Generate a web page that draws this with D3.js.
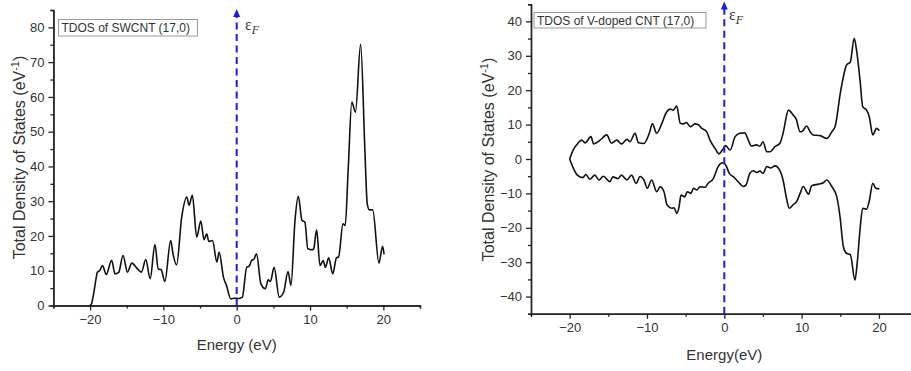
<!DOCTYPE html>
<html>
<head>
<meta charset="utf-8">
<script src="https://cdn.jsdelivr.net/npm/d3@7"></script>
<style>
  html, body { margin: 0; padding: 0; background: #fff; }
  svg { display: block; font-family: "Liberation Sans", Arial, sans-serif; }
</style>
</head>
<body>
<svg id="chart" width="911" height="371"></svg>
<script>
// ---------- Data ----------
const swcntEnergy = [-20.0,-19.8,-19.5,-19.2,-19.0,-18.7,-18.3,-17.8,-17.05,-16.6,-16.1,-15.5,-14.9,-14.3,-13.6,-13.0,-12.4,-11.8,-11.15,-10.7,-10.3,-9.8,-9.0,-8.7,-8.2,-7.5,-6.8,-6.5,-6.05,-5.45,-4.9,-4.45,-4.1,-3.8,-3.3,-2.7,-2.4,-1.8,-1.4,-0.8,-0.3,0.2,0.77,1.36,1.7,2.05,2.35,2.7,3.3,3.9,4.3,4.6,5.1,5.8,6.4,7.0,7.4,7.95,8.4,8.9,9.3,9.7,10.3,10.5,10.9,11.36,11.8,12.1,12.55,13.1,13.6,13.9,14.5,14.8,15.2,15.7,16.2,16.9,17.5,17.8,18.1,18.55,19.4,19.9,20.1];
const swcntDos = [0,0.5,3.5,7.5,9.6,10.0,11.5,8.9,13.0,9.1,9.5,14.4,9.6,12.2,10.7,9.6,13.2,7.7,17.5,10.5,10.3,6.9,18.7,15.0,11.7,25.4,31.2,28.8,31.7,19.7,24.3,18.9,20.6,18.4,18.7,12.5,15.3,8.1,5.8,1.9,2.1,2.0,2.4,11.0,11.3,13.0,13.3,14.9,6.2,4.8,7.4,6.9,11.0,2.4,3.8,9.8,5.8,24.5,31.4,24.5,24.0,16.3,16.0,16.3,21.8,11.5,12.9,11.0,13.7,9.1,13.7,14.0,23.5,23.0,38.8,58.5,55.6,75.1,43.7,29.3,27.5,27.5,12.2,17.0,14.7];

const vUpEnergy = [-20.0,-19.5,-19.1,-18.45,-18.0,-17.25,-16.9,-16.1,-15.2,-14.6,-13.9,-13.3,-12.6,-12.2,-11.55,-11.1,-10.4,-9.7,-9.3,-8.75,-8.1,-7.55,-7.0,-6.6,-6.15,-5.7,-5.3,-4.9,-4.4,-3.8,-3.4,-2.9,-2.3,-1.85,-1.2,-0.7,-0.25,0.18,0.75,1.4,2.0,2.65,3.1,3.5,4.15,4.6,5.0,5.5,5.9,6.55,7.2,7.6,8.3,8.9,9.3,9.8,10.15,10.65,11.1,11.5,12.4,13.25,13.9,14.35,15.0,15.4,15.8,16.3,16.8,17.1,17.55,17.9,18.4,18.75,19.2,19.7,20.05];
const vUpDos = [0,2.8,4.1,5.5,4.7,6.5,4.4,5.4,7.0,4.6,5.5,4.4,5.7,5.0,7.5,4.7,4.5,7.5,10.2,7.5,10.2,13.3,14.5,14.2,15.4,10.4,10.2,10.6,9.4,10.2,10.0,8.9,8.0,5.5,3.1,1.5,2.6,3.9,2.6,6.5,7.5,7.6,5.5,3.8,4.1,3.7,5.0,2.1,2.1,3.6,4.6,7.5,14.2,12.8,11.6,7.9,8.2,9.6,7.9,7.0,6.8,6.0,7.9,9.6,19.1,23.9,27.3,28.2,35.1,31.7,23.0,15.2,14.2,12.3,7.0,8.9,8.2];

const vDownEnergy = [-20.0,-19.5,-19.0,-18.3,-17.9,-17.4,-16.75,-16.2,-15.65,-14.8,-14.4,-13.75,-13.3,-12.6,-12.0,-11.4,-10.9,-10.4,-9.95,-9.4,-8.75,-8.3,-7.8,-7.4,-6.8,-6.5,-6.15,-5.85,-5.6,-5.1,-4.8,-4.3,-4.0,-3.55,-3.15,-2.5,-2.1,-1.4,-0.8,-0.2,0.2,0.65,1.2,1.8,2.45,2.8,3.3,3.75,4.2,4.6,5.0,5.5,6.0,6.55,7.2,7.6,8.0,8.4,8.9,9.35,9.8,10.2,10.9,11.3,12.2,12.8,13.25,13.9,14.55,14.97,15.4,15.8,16.3,16.9,17.2,17.55,17.9,18.4,18.75,19.2,19.6,20.05];
const vDownDos = [0,-2.8,-4.7,-5.4,-4.5,-5.9,-4.7,-6.1,-5.0,-6.6,-5.2,-5.7,-4.7,-6.1,-4.7,-7.1,-5.1,-6.1,-8.5,-6.1,-9.5,-8.1,-9.5,-13.4,-14.3,-14.2,-15.8,-13.9,-10.5,-11.0,-9.5,-10.0,-8.5,-9.0,-8.1,-8.2,-7.1,-5.6,-2.2,-1.1,-1.8,-4.2,-5.2,-6.6,-8.0,-7.6,-4.2,-3.4,-3.9,-3.5,-4.2,-2.2,-2.6,-2.0,-3.4,-6.1,-10.9,-14.3,-13.3,-12.4,-10.0,-8.0,-10.2,-7.8,-7.3,-6.9,-6.1,-8.0,-11.0,-16.8,-25.5,-27.4,-27.8,-35.2,-30.0,-20.6,-14.3,-14.6,-12.2,-7.1,-8.5,-8.7];

const xMajorTicks = [-20, -10, 0, 10, 20];
const xMinorTicks = [-25, -15, -5, 5, 15, 25];
const leftYMajor = [0, 10, 20, 30, 40, 50, 60, 70, 80];
const leftYMinor = [5, 15, 25, 35, 45, 55, 65, 75, 85];
const rightYMajor = [-40, -30, -20, -10, 0, 10, 20, 30, 40];
const rightYMinor = [-45, -35, -25, -15, -5, 5, 15, 25, 35, 45];
const leftLegend = "TDOS of SWCNT (17,0)";
const rightLegend = "TDOS of V-doped CNT (17,0)";

// ---------- Drawing ----------
const svg = d3.select("#chart");
const textColor = "#333";
const axisColor = "#222";
const fermiColor = "#1c1ce6";

function drawAxes(g, x, y, yMaj, yMin) {
  const xMaj = d3.axisBottom(x).tickValues(xMajorTicks).tickSize(5).tickSizeOuter(0).tickPadding(4)
    .tickFormat(d3.format("d"));
  const xMin = d3.axisBottom(x).tickValues(xMinorTicks).tickSize(3).tickFormat("");
  const yM = d3.axisLeft(y).tickValues(yMaj).tickSize(5).tickSizeOuter(0).tickPadding(4)
    .tickFormat(d3.format("d"));
  const ym = d3.axisLeft(y).tickValues(yMin).tickSize(3).tickFormat("");

  const y0 = y.range()[0];
  const x0 = x.range()[0];
  [ [xMaj, `translate(0,${y0})`], [xMin, `translate(0,${y0})`],
    [yM, `translate(${x0},0)`], [ym, `translate(${x0},0)`] ].forEach(([ax, tr]) => {
    const a = g.append("g").attr("transform", tr).call(ax);
    a.attr("font-family", null).attr("font-size", null);
    a.selectAll("path.domain").attr("stroke", axisColor).attr("stroke-width", 1.4);
    a.selectAll("line").attr("stroke", axisColor).attr("stroke-width", 1.3);
    a.selectAll("text").attr("fill", textColor)
      .style("font-size", "13px")
      .style("font-family", "'Liberation Sans', Arial, sans-serif");
  });
}

function drawFermi(g, x, yBottom, yTip, labelX, labelY) {
  const xf = x(0);
  g.append("line")
    .attr("x1", xf).attr("x2", xf).attr("y1", yBottom).attr("y2", yTip + 7)
    .attr("stroke", fermiColor).attr("stroke-width", 2)
    .attr("stroke-dasharray", "7,4.5");
  g.append("path")
    .attr("d", `M${xf},${yTip} L${xf - 3.5},${yTip + 8} L${xf + 3.5},${yTip + 8} Z`)
    .attr("fill", fermiColor);
  const t = g.append("text").attr("x", labelX).attr("y", labelY)
    .attr("fill", textColor)
    .style("font-family", "'Liberation Serif', 'DejaVu Serif', serif")
    .style("font-size", "16px");
  t.append("tspan").text("ε");
  t.append("tspan").attr("dy", 4).style("font-size", "12px").style("font-style", "italic").text("F");
}

function drawYTitle(g, cx, cy) {
  const t = g.append("text")
    .attr("transform", `translate(${cx},${cy}) rotate(-90)`)
    .attr("text-anchor", "middle").attr("fill", textColor).style("font-size", "16px");
  t.append("tspan").text("Total Density of States (eV");
  t.append("tspan").attr("dy", -6).style("font-size", "11px").text("-1");
  t.append("tspan").attr("dy", 6).text(")");
}

function drawLegend(g, bx, by, bw, bh, label) {
  g.append("rect").attr("x", bx).attr("y", by).attr("width", bw).attr("height", bh)
    .attr("fill", "#fff").attr("stroke", "#999").attr("stroke-width", 1);
  g.append("text").attr("x", bx + 3).attr("y", by + bh / 2 + 4.3)
    .attr("fill", textColor).style("font-size", "12px").text(label);
}

const line = (x, y) => d3.line().x(d => x(d[0])).y(d => y(d[1])).curve(d3.curveMonotoneX);

// ----- Left panel -----
{
  const g = svg.append("g");
  const x = d3.scaleLinear().domain([-25, 25]).range([53.4, 420]);
  const y = d3.scaleLinear().domain([0, 85]).range([305.5, 10]);
  drawAxes(g, x, y, leftYMajor, leftYMinor);
  const pts = swcntEnergy.map((e, i) => [e, swcntDos[i]]);
  g.append("path").attr("d", line(x, y)(pts)).attr("fill", "none")
    .attr("stroke", "#111").attr("stroke-width", 1.6).attr("stroke-linejoin", "round");
  drawFermi(g, x, 305.5, 9, 245, 30);
  drawLegend(g, 58.5, 19.5, 139, 16.5, leftLegend);
  drawYTitle(g, 25, 157.5);
  g.append("text").attr("x", x(0)).attr("y", 350).attr("text-anchor", "middle")
    .attr("fill", textColor).style("font-size", "15px").text("Energy (eV)");
}

// ----- Right panel -----
{
  const g = svg.append("g");
  const x = d3.scaleLinear().domain([-25, 25]).range([531, 917.6]);
  const y = d3.scaleLinear().domain([-45, 45]).range([313.8, 4.2]);
  drawAxes(g, x, y, rightYMajor, rightYMinor);
  const up = vUpEnergy.map((e, i) => [e, vUpDos[i]]);
  const dn = vDownEnergy.map((e, i) => [e, vDownDos[i]]);
  [up, dn].forEach(pts => {
    g.append("path").attr("d", line(x, y)(pts)).attr("fill", "none")
      .attr("stroke", "#111").attr("stroke-width", 1.6).attr("stroke-linejoin", "round");
  });
  drawFermi(g, x, 313.8, 1.5, 729, 20);
  drawLegend(g, 534, 12.5, 172, 15.5, rightLegend);
  drawYTitle(g, 493.5, 159.5);
  g.append("text").attr("x", x(0)).attr("y", 360).attr("text-anchor", "middle")
    .attr("fill", textColor).style("font-size", "15px").text("Energy(eV)");
}
</script>
</body>
</html>
